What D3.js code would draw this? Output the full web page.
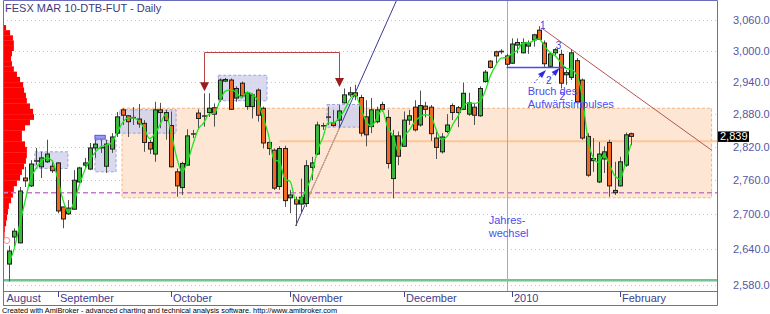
<!DOCTYPE html>
<html>
<head>
<meta charset="utf-8">
<script src="https://cdn.jsdelivr.net/npm/d3@7"></script>
<style>
  html, body { margin: 0; padding: 0; background: #ffffff; }
  svg { display: block; font-family: "Liberation Sans", Arial, sans-serif; }
</style>
</head>
<body>
<svg id="chart" width="770" height="314"></svg>
<script>
// FESX March 2010 future, daily bars from 19 Aug 2009 to 3 Feb 2010
const opens = [2615,2661,2651,2764,2750,2795,2784,2793,2785,2791,2713,2701,2709,2757,2787,2780,2818,2819,2785,2816,
  2845,2888,2877,2874,2871,2863,2828,2807,2888,2883,2859,2775,2747,2787,2844,2882,2877,2883,2892,2908,
  2942,2944,2910,2938,2894,2894,2925,2891,2828,2814,2749,2817,2729,2726,2718,2719,2783,2807,2859,2875,
  2864,2869,2901,2916,2920,2911,2875,2857,2866,2898,2874,2763,2840,2821,2869,2893,2860,2895,2893,2836,
  2811,2848,2896,2892,2889,2880,2893,2877,2941,2980,2998,2999,2990,2976,3011,2996,3009,3021,3040,3015,
  2970,2996,2993,2954,2949,2981,2944,2839,2795,2757,2798,2828,2738,2750,2787,2844];
const highs = [2646,2676,2748,2784,2796,2818,2811,2833,2796,2792,2713,2725,2778,2784,2800,2827,2833,2833,2833,2845,
  2884,2891,2878,2893,2899,2869,2833,2903,2901,2888,2885,2781,2793,2852,2851,2889,2919,2919,2900,2947,
  2948,2947,2932,2941,2922,2919,2928,2894,2833,2817,2821,2822,2743,2731,2763,2796,2802,2866,2864,2894,
  2888,2897,2928,2931,2935,2916,2906,2910,2894,2903,2888,2851,2848,2885,2888,2906,2924,2903,2897,2848,
  2845,2880,2900,2895,2939,2920,2899,2932,2963,2982,3000,3003,2994,3024,3024,3024,3020,3033,3048,3020,
  2996,3005,3002,2963,3002,2986,2947,2845,2836,2829,2821,2833,2793,2802,2846,2846];
const lows = [2586,2642,2650,2748,2748,2787,2764,2791,2773,2702,2676,2699,2708,2755,2782,2778,2800,2809,2773,2809,
  2838,2860,2838,2860,2855,2811,2807,2793,2854,2833,2783,2731,2734,2787,2836,2854,2857,2875,2857,2903,
  2940,2888,2903,2910,2888,2872,2866,2817,2805,2743,2743,2713,2702,2680,2702,2713,2760,2805,2851,2860,
  2857,2854,2900,2912,2906,2839,2821,2845,2863,2885,2781,2728,2787,2820,2860,2848,2857,2874,2831,2798,
  2808,2845,2869,2856,2888,2877,2860,2875,2939,2966,2976,2994,2969,2975,2995,2995,2994,3008,3021,2969,
  2969,2991,2928,2935,2944,2902,2833,2766,2775,2755,2773,2731,2734,2749,2784,2823];
const closes = [2637,2671,2741,2759,2789,2794,2800,2807,2777,2706,2692,2711,2760,2782,2791,2818,2825,2818,2825,2838,
  2875,2878,2866,2873,2862,2828,2816,2888,2883,2868,2784,2750,2790,2840,2843,2872,2876,2891,2880,2944,
  2945,2889,2928,2914,2920,2916,2878,2827,2817,2746,2817,2724,2734,2718,2730,2786,2791,2860,2858,2874,
  2859,2886,2916,2920,2914,2845,2842,2888,2888,2889,2790,2840,2803,2869,2877,2851,2896,2889,2844,2819,
  2838,2860,2883,2883,2919,2901,2878,2928,2959,2968,2990,2998,2974,3013,3016,3016,3015,3031,3022,2975,
  2994,3002,2938,2958,2996,2903,2836,2769,2799,2807,2811,2750,2742,2793,2842,2839];
// 3-bar average of the close (green indicator line)
const avg3 = [2617,2642,2683,2724,2763,2781,2794,2800,2795,2763,2725,2703,2721,2751,2778,2797,2811,2820,2823,2827,
  2846,2864,2873,2873,2867,2854,2835,2844,2862,2880,2845,2801,2775,2793,2824,2852,2864,2880,2882,2905,
  2923,2926,2921,2910,2921,2917,2905,2874,2841,2797,2793,2762,2758,2725,2728,2745,2769,2812,2836,2864,
  2864,2873,2887,2907,2917,2893,2867,2858,2872,2888,2856,2840,2811,2838,2850,2866,2875,2879,2876,2851,
  2833,2839,2860,2876,2895,2901,2900,2903,2922,2952,2972,2986,2987,2995,3001,3015,3015,3020,3023,3009,
  2997,2990,2978,2966,2964,2953,2912,2836,2801,2792,2806,2789,2768,2762,2792,2825];

const priceTicks = [2580, 2640, 2700, 2760, 2820, 2880, 2940, 3000, 3060];
const monthNames = ["August", "September", "October", "November", "December", "2010", "February"];
const monthBars = [-12, 9, 30, 52, 73, 93, 113];

// volume-at-price profile (10-point bins, relative volume)
const profilePrices = [3040,3030,3020,3010,3000,2990,2980,2970,2960,2950,2940,2930,2920,2910,2900,2890,2880,2870,2860,2850,
  2840,2830,2820,2810,2800,2790,2780,2770,2760,2750,2740,2730,2720,2710,2700,2690,2680,2670,2660,2650,
  2640,2630,2620,2610,2600,2590];
const profileVolume = [10,23,32,35,35,29,26,29,35,45,55,65,68,74,77,87,97,100,87,71,
  61,61,71,77,77,74,68,61,55,45,35,32,26,19,16,13,10,6,5,3,
  3,2,1,1,1,1];

// consolidation zones: bar range and price range
const zoneFrom = [4.8, 15.9, 20.5, 38.7, 58.8];
const zoneTo = [10.9, 19.8, 30.9, 47.7, 64.9];
const zoneHigh = [2811, 2832, 2888, 2953, 2898];
const zoneLow = [2781, 2775, 2845, 2905, 2856];

// trading range
const rangeFrom = 20.9, rangeTo = 129.9, rangeHigh = 2891, rangeLow = 2729;
const supportLevel = 2738;
const bottomLevel = 2588;
const pivotLevel = 2830, pivotFrom = 50;

// trend lines: [bar, price] pairs
const upTrend = [[53, 2680], [71.7, 3100]];
const downTrend = [[98.5, 3044], [129.9, 2814]];
const minorTrend = [[54.7, 2716], [61.2, 2856]];

// double-top bracket
const bracketBars = [36, 61];
const bracketTop = 2997;
const bracketTips = [2923, 2931];

// impulse break
const breakLine = [[92, 2968], [103, 2968]];
const yearBar = 92;

const noteText = ["Bruch des", "Aufwärtsimpulses", "Jahres-", "wechsel"];
const noteBar = [95.9, 95.9, 88.7, 88.7];
const notePrice = [2916, 2891, 2683, 2661];
const markText = ["1", "3", "2", "2"];
const markBar = [98.2, 101.1, 99.3, 101.8];
const markPrice = [3042, 3003, 2936, 2906];
const arrowBar = [99.3, 101.8];
const arrowPrice = [2963, 2967];

const title = "FESX MAR 10-DTB-FUT - Daily";
const footer = "Created with AmiBroker - advanced charting and technical analysis software. http://www.amibroker.com";

// ---------------------------------------------------------------
const svg = d3.select("#chart");
const L = 3, R = 717, T = 0, B = 291.5, AX = 305.5;
const frameColor = "#6c6cbc";

const x = d3.scaleLinear().domain([-1.1, 130.9]).range([L, R]);
const y = d3.scaleLog().domain([2580, 3060]).range([285, 20]);
const vol = d3.scaleLinear().domain([0, 100]).range([0, 31]);

svg.append("defs").append("clipPath").attr("id", "plotClip")
  .append("rect").attr("x", L).attr("y", T).attr("width", R - L).attr("height", B - T);

const plot = svg.append("g").attr("clip-path", "url(#plotClip)");

// grid
plot.append("g").selectAll("line").data(priceTicks).join("line")
  .attr("x1", L).attr("x2", R)
  .attr("y1", d => Math.round(y(d)) + 0.5).attr("y2", d => Math.round(y(d)) + 0.5)
  .attr("stroke", "#c4c4c4").attr("stroke-dasharray", "1,3");

// trading range band
plot.append("rect")
  .attr("x", x(rangeFrom)).attr("y", y(rangeHigh))
  .attr("width", x(rangeTo) - x(rangeFrom)).attr("height", y(rangeLow) - y(rangeHigh))
  .attr("fill", "#fde7d4").attr("stroke", "#f6b47e").attr("stroke-dasharray", "3,2");

// zones
plot.append("g").selectAll("rect").data(d3.range(zoneFrom.length)).join("rect")
  .attr("x", i => x(zoneFrom[i])).attr("y", i => y(zoneHigh[i]))
  .attr("width", i => x(zoneTo[i]) - x(zoneFrom[i]))
  .attr("height", i => y(zoneLow[i]) - y(zoneHigh[i]))
  .attr("fill", "#cfd1ec").attr("fill-opacity", 0.8)
  .attr("stroke", "#9ea2d4").attr("stroke-dasharray", "3,2");

// volume profile
plot.append("g").selectAll("rect").data(d3.range(profilePrices.length)).join("rect")
  .attr("x", L)
  .attr("y", i => y(profilePrices[i] + 10))
  .attr("width", i => vol(profileVolume[i]))
  .attr("height", i => y(profilePrices[i]) - y(profilePrices[i] + 10) + 0.3)
  .attr("fill", "#ff0000");

// horizontal levels
plot.append("line").attr("x1", L).attr("x2", R)
  .attr("y1", y(bottomLevel)).attr("y2", y(bottomLevel))
  .attr("stroke", "#72c48e").attr("stroke-width", 2.5);
plot.append("line").attr("x1", L).attr("x2", R)
  .attr("y1", y(supportLevel)).attr("y2", y(supportLevel))
  .attr("stroke", "#c878c8").attr("stroke-width", 1.5).attr("stroke-dasharray", "5,3");
plot.append("line").attr("x1", x(pivotFrom)).attr("x2", R)
  .attr("y1", y(pivotLevel)).attr("y2", y(pivotLevel))
  .attr("stroke", "#ffc596").attr("stroke-width", 2);

// year change
plot.append("line").attr("x1", Math.round(x(yearBar)) + 0.5).attr("x2", Math.round(x(yearBar)) + 0.5)
  .attr("y1", T).attr("y2", B).attr("stroke", "#a4a4d6");

// trend lines (clipped to the plot)
const toScreen = p => p.map(([b, v]) => [x(b), y(v)]);
const seg = d3.line();
plot.append("path").attr("d", seg(toScreen(upTrend))).attr("stroke", "#3a3a90").attr("fill", "none");
plot.append("path").attr("d", seg(toScreen(minorTrend))).attr("stroke", "#f4b07a").attr("fill", "none");
plot.append("path").attr("d", seg(toScreen(downTrend))).attr("stroke", "#b45454").attr("fill", "none");

// candles
const bars = d3.range(closes.length);
const cx = i => Math.round(x(i));
plot.append("g").selectAll("line").data(bars).join("line")
  .attr("x1", i => cx(i) + 0.5).attr("x2", i => cx(i) + 0.5)
  .attr("y1", i => y(highs[i])).attr("y2", i => y(lows[i]))
  .attr("stroke", "#505050");

const bodies = plot.append("g");
bars.forEach(i => {
  const o = opens[i], c = closes[i];
  const top = y(Math.max(o, c)), bot = y(Math.min(o, c));
  if (bot - top < 1.5) {
    bodies.append("line")
      .attr("x1", cx(i) - 2).attr("x2", cx(i) + 3)
      .attr("y1", (top + bot) / 2).attr("y2", (top + bot) / 2)
      .attr("stroke", "#333").attr("stroke-width", 1.6);
  } else {
    bodies.append("rect")
      .attr("x", cx(i) - 1.5).attr("width", 4)
      .attr("y", top).attr("height", bot - top)
      .attr("fill", c >= o ? "#3bb83b" : "#f26a21")
      .attr("stroke", "#1e1e1e").attr("stroke-width", 1);
  }
});

// indicator line
plot.append("path")
  .attr("d", d3.line().x(i => x(i)).y(i => y(avg3[i])).curve(d3.curveMonotoneX)(bars))
  .attr("fill", "none").attr("stroke", "#1fe41f").attr("stroke-width", 1.3);

// break line
plot.append("line")
  .attr("x1", x(breakLine[0][0])).attr("x2", x(breakLine[1][0]))
  .attr("y1", y(breakLine[0][1])).attr("y2", y(breakLine[1][1]))
  .attr("stroke", "#4a4af2").attr("stroke-width", 1.5);

// bracket with arrowheads
const bx0 = Math.round(x(bracketBars[0])) + 0.5, bx1 = Math.round(x(bracketBars[1])) + 0.5;
const tip0 = y(bracketTips[0]), tip1 = y(bracketTips[1]);
plot.append("path")
  .attr("d", `M${bx0},${tip0 - 8}V${Math.round(y(bracketTop)) + 0.5}H${bx1}V${tip1 - 8}`)
  .attr("fill", "none").attr("stroke", "#b84444");
[[bx0, tip0], [bx1, tip1]].forEach(([ax, ay]) => {
  plot.append("path")
    .attr("d", `M${ax - 4.5},${ay - 9}L${ax + 4.5},${ay - 9}L${ax},${ay}Z`)
    .attr("fill", "#9a1c1c");
});

// small markers
plot.append("rect")
  .attr("x", x(15.9)).attr("y", y(2841))
  .attr("width", x(17.8) - x(15.9)).attr("height", y(2834) - y(2841))
  .attr("fill", "#9a9af2").attr("stroke", "#5252e6");
plot.append("circle")
  .attr("cx", x(-0.4)).attr("cy", y(2655)).attr("r", 3)
  .attr("fill", "none").attr("stroke", "#f08a8a");

// impulse arrows
d3.range(arrowBar.length).forEach(i => {
  const ax = x(arrowBar[i]), ay = y(arrowPrice[i]);
  plot.append("path")
    .attr("d", `M${ax},${ay}L${ax - 8},${ay + 4}L${ax - 4},${ay + 8}Z`)
    .attr("fill", "#2a2ae0");
  plot.append("line")
    .attr("x1", ax - 6).attr("y1", ay + 6).attr("x2", ax - 12).attr("y2", ay + 13)
    .attr("stroke", "#4a4ae6").attr("stroke-dasharray", "2,2");
});

// annotation labels
plot.append("g").selectAll("text").data(d3.range(markText.length)).join("text")
  .attr("x", i => x(markBar[i])).attr("y", i => y(markPrice[i]))
  .attr("font-size", 10).attr("fill", "#3e3ee0")
  .text(i => markText[i]);
plot.append("g").selectAll("text").data(d3.range(noteText.length)).join("text")
  .attr("x", i => x(noteBar[i])).attr("y", i => y(notePrice[i]))
  .attr("font-size", 11).attr("fill", "#4c4cee")
  .text(i => noteText[i]);

// title
svg.append("text").attr("x", 5).attr("y", 11.5)
  .attr("font-size", 11).attr("fill", "#3c3c7c").text(title);

// frame
const frame = svg.append("g").attr("stroke", frameColor).attr("fill", "none");
frame.append("path").attr("d", `M${L + 0.5},${AX}V0.5H${R + 0.5}V${AX}`);
frame.append("line").attr("x1", L).attr("x2", R + 0.5).attr("y1", B).attr("y2", B);
frame.append("line").attr("x1", L).attr("x2", R + 0.5).attr("y1", AX).attr("y2", AX);

// price axis
const fmt = d3.format(",.1f");
svg.append("g").selectAll("text").data(priceTicks).join("text")
  .attr("x", 733).attr("y", d => y(d) + 4)
  .attr("font-size", 11).attr("fill", "#5555a6")
  .text(d => fmt(d));

// last price tag
const last = closes[closes.length - 1];
svg.append("rect").attr("x", R + 1).attr("y", y(last) - 5).attr("width", 31).attr("height", 10.5).attr("fill", "#000");
svg.append("text").attr("x", R + 3).attr("y", y(last) + 4)
  .attr("font-size", 11).attr("fill", "#fff").text(d3.format(",.0f")(last));

// date axis
const dateAxis = svg.append("g");
d3.range(monthNames.length).forEach(k => {
  const mx = Math.round(x(monthBars[k])) + 0.5;
  if (monthBars[k] >= 0) {
    dateAxis.append("line").attr("x1", mx).attr("x2", mx).attr("y1", B).attr("y2", B + 5.5)
      .attr("stroke", "#40408e");
  }
  dateAxis.append("text")
    .attr("x", Math.max(mx + 1.5, 6.5)).attr("y", 302)
    .attr("font-size", 11).attr("fill", "#40408e")
    .text(monthNames[k]);
});

// footer
svg.append("text").attr("x", 2).attr("y", 313)
  .attr("font-size", 8).attr("fill", "#000")
  .attr("textLength", 335).attr("lengthAdjust", "spacingAndGlyphs")
  .text(footer);
</script>
</body>
</html>
